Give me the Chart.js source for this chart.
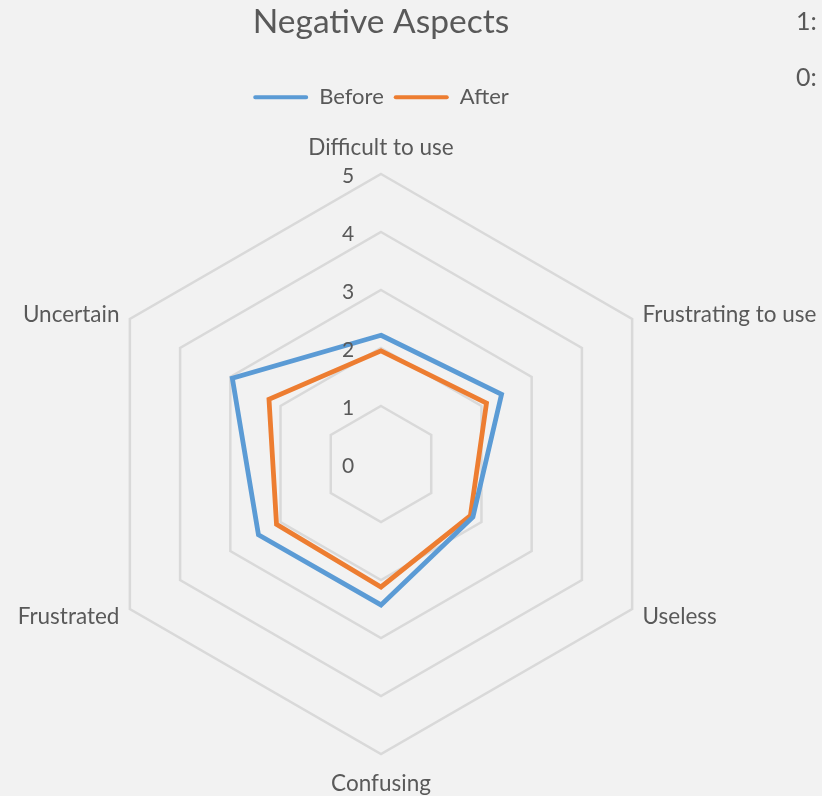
<!DOCTYPE html>
<html>
<head>
<meta charset="utf-8">
<script src="https://cdn.jsdelivr.net/npm/chart.js@4/dist/chart.umd.min.js"></script>
<style>
  html, body { margin: 0; padding: 0; background: #f2f2f2; }
  #wrap { width: 822px; height: 796px; position: relative; }
</style>
</head>
<body>
<div id="wrap"><canvas id="myChart"></canvas></div>
<script>
// данные
const aspects = ['Difficult to use', 'Frustrating to use', 'Useless', 'Confusing', 'Frustrated', 'Uncertain'];
const beforeValues = [2.22, 2.4, 1.83, 2.43, 2.44, 2.96];
const afterValues = [1.95, 2.1, 1.78, 2.12, 2.08, 2.23];
const scaleTicks = [0, 1, 2, 3, 4, 5];
const sideLabels = ['1:', '0:'];

const textColor = '#595959';
const fontFamily = 'Lato, "Open Sans", sans-serif';

// Подписи осей и делений рисуем сами, чтобы поставить их как в Excel
const radarLabelsPlugin = {
  id: 'radarLabels',
  afterDraw(chart) {
    const { ctx } = chart;
    const scale = chart.scales.r;
    const cx = scale.xCenter;
    const cy = scale.yCenter;

    ctx.save();
    ctx.fillStyle = textColor;

    // деления 0..5 слева от верхней оси
    ctx.font = '21px ' + fontFamily;
    ctx.textAlign = 'center';
    ctx.textBaseline = 'middle';
    scaleTicks.forEach(v => {
      const d = scale.getDistanceFromCenterForValue(v);
      ctx.fillText(String(v), cx - 33, cy - d + 2);
    });

    // названия осей
    ctx.font = '22.5px ' + fontFamily;
    aspects.forEach((label, i) => {
      const probe = scale.getPointPosition(i, 10);
      const dx = probe.x - cx;
      let extra = 12;
      if (Math.abs(dx) < 1) {
        extra = 28;
        ctx.textAlign = 'center';
      } else {
        ctx.textAlign = dx > 0 ? 'left' : 'right';
      }
      const p = scale.getPointPosition(i, scale.drawingArea + extra);
      ctx.fillText(label, p.x, p.y + 2);
    });

    // обрезанный текст справа
    ctx.font = '25px ' + fontFamily;
    ctx.textAlign = 'left';
    sideLabels.forEach((t, i) => {
      ctx.fillText(t, 796, 22 + i * 56);
    });
    ctx.restore();
  }
};

new Chart(document.getElementById('myChart'), {
  type: 'radar',
  data: {
    labels: aspects,
    datasets: [
      { label: 'Before', data: beforeValues, borderColor: '#5b9bd5', backgroundColor: '#5b9bd5' },
      { label: 'After', data: afterValues, borderColor: '#ed7d31', backgroundColor: '#ed7d31' }
    ]
  },
  options: {
    responsive: true,
    maintainAspectRatio: false,
    animation: false,
    layout: { padding: { left: 91, right: 151, top: 0, bottom: 0 } },
    elements: {
      line: { borderWidth: 4.8, tension: 0, fill: false, borderJoinStyle: 'miter' },
      point: { radius: 0, hoverRadius: 0 }
    },
    scales: {
      r: {
        min: 0,
        max: 5,
        ticks: { display: false, stepSize: 1 },
        pointLabels: { display: false },
        angleLines: { display: false },
        grid: { circular: false, color: '#d9d9d9', lineWidth: 2.5 }
      }
    },
    plugins: {
      title: {
        display: true,
        text: 'Negative Aspects',
        color: textColor,
        font: { family: fontFamily, size: 33.5, weight: 'normal' },
        padding: { top: 2, bottom: 34 }
      },
      // пустой подзаголовок как отступ между легендой и диаграммой
      subtitle: {
        display: true,
        text: ' ',
        weight: 500,
        font: { size: 1 },
        padding: { top: 0, bottom: 14 }
      },
      legend: {
        display: true,
        position: 'top',
        labels: {
          color: textColor,
          font: { family: fontFamily, size: 22 },
          boxWidth: 55,
          boxHeight: 4,
          padding: 10,
          generateLabels(chart) {
            const items = Chart.defaults.plugins.legend.labels.generateLabels(chart);
            items.forEach(it => {
              it.fillStyle = it.strokeStyle;
              it.lineWidth = 0;
              it.borderRadius = 2;
            });
            return items;
          }
        }
      },
      tooltip: { enabled: false }
    }
  },
  plugins: [radarLabelsPlugin]
});
</script>
</body>
</html>
